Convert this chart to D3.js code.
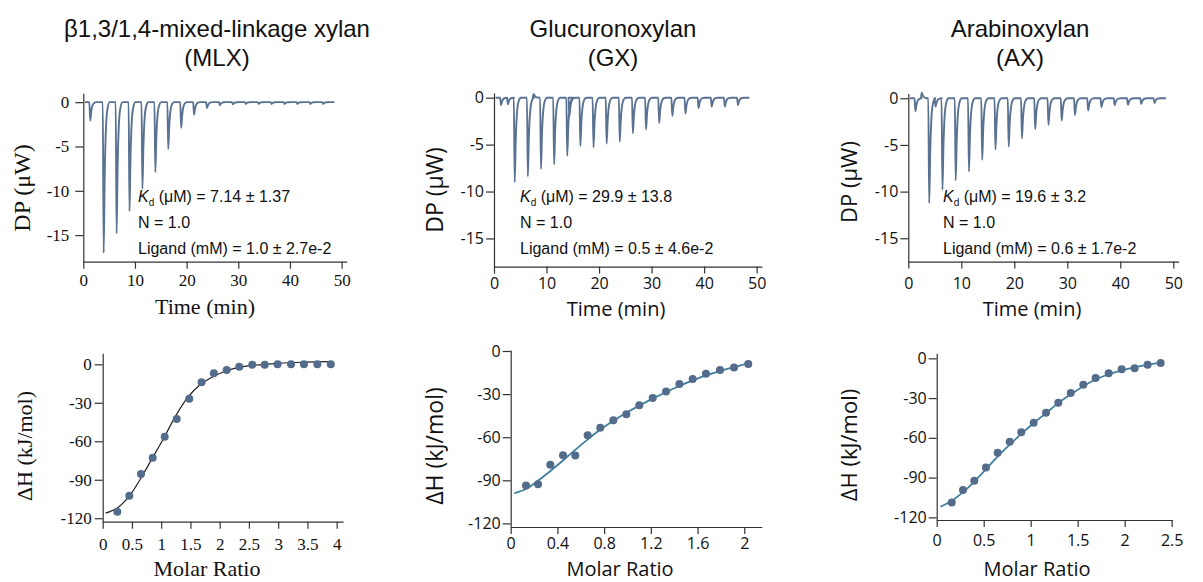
<!DOCTYPE html>
<html>
<head>
<meta charset="utf-8">
<script src="https://cdn.jsdelivr.net/npm/d3@7"></script>
<style>
body { margin: 0; background: #fff; }
svg text { fill: #111; }
.axis path, .axis line { stroke: #333; stroke-width: 1.2; }
</style>
</head>
<body>
<svg id="fig" width="1203" height="582"></svg>
<script>
// injection times (min)
var injTimes = [1.2, 3.8, 6.3, 8.8, 11.3, 13.8, 16.3, 18.8, 21.3, 23.8, 26.3, 28.8, 31.3, 33.8, 36.3, 38.8, 41.3, 43.8, 46.3];

// peak heights (uW) per injection
var mlxPeaks = [-2.1, -17.0, -14.8, -12.3, -9.8, -7.9, -5.3, -2.9, -1.4, -0.65, -0.35, -0.25, -0.2, -0.2, -0.2, -0.2, -0.2, -0.2, -0.2];
var gxPeaks = [-0.8, -9.0, -8.4, -7.6, -7.1, -6.2, -5.15, -5.3, -4.9, -4.7, -3.8, -3.4, -2.7, -1.95, -1.7, -1.1, -0.95, -0.95, -0.8];
var axPeaks = [-1.4, -11.25, -9.8, -8.8, -7.85, -6.6, -5.5, -5.2, -4.3, -3.3, -2.85, -2.4, -1.8, -1.3, -0.97, -0.75, -0.7, -0.6, -0.5];

// small extra features on the baseline [time, value]
var mlxExtra = [];
var gxExtra = [[2.5, -0.7], [7.4, 0.4], [14.2, -2.0]];
var axExtra = [[2.4, 0.6], [5.0, -0.9]];

// integrated heats: molar ratio / dH (kJ/mol)
var mlxRatio = [0.25, 0.455, 0.655, 0.855, 1.06, 1.265, 1.48, 1.69, 1.9, 2.12, 2.335, 2.557, 2.77, 2.99, 3.22, 3.44, 3.67, 3.9];
var mlxHeat = [-114.9, -102.4, -85.5, -72.8, -56.4, -42.6, -26.8, -14.0, -7.0, -4.4, -1.8, -0.3, -0.3, 0, 0, 0, 0, 0];
var mlxFitX = [0.05, 0.25, 0.45, 0.65, 0.85, 1.05, 1.25, 1.45, 1.65, 1.85, 2.05, 2.25, 2.5, 3.0, 3.5, 3.9];
var mlxFitY = [-116, -112, -103, -89, -73, -57, -40, -26, -16.5, -10.5, -6.2, -3.2, -1.2, 0.8, 1.7, 2.1];

var gxRatio = [0.131, 0.234, 0.339, 0.448, 0.553, 0.659, 0.767, 0.879, 0.99, 1.101, 1.216, 1.33, 1.444, 1.558, 1.672, 1.792, 1.912, 2.034];
var gxHeat = [-93.7, -92.8, -79.1, -72.6, -72.8, -58.7, -53.4, -48.2, -44.1, -37.8, -32.7, -28.1, -23.0, -19.5, -15.8, -13.2, -11.4, -9.0];
var gxFitX = [0.03, 0.13, 0.23, 0.34, 0.45, 0.55, 0.66, 0.77, 0.88, 0.99, 1.1, 1.22, 1.33, 1.44, 1.56, 1.67, 1.79, 1.91, 2.03];
var gxFitY = [-99, -96, -90.5, -83.5, -76, -69, -61.5, -54.5, -48.5, -43, -38, -33, -28.5, -24.5, -20.5, -17, -14, -11.3, -8.8];

var axRatio = [0.16, 0.28, 0.40, 0.524, 0.649, 0.777, 0.90, 1.032, 1.163, 1.294, 1.426, 1.56, 1.691, 1.83, 1.968, 2.106, 2.244, 2.383];
var axHeat = [-108.7, -99.4, -92.4, -82.3, -71.2, -62.9, -55.8, -48.6, -41.1, -33.5, -26.2, -19.9, -14.9, -11.3, -8.3, -7.5, -4.8, -3.5];
var axFitX = [0.04, 0.16, 0.28, 0.4, 0.52, 0.65, 0.78, 0.9, 1.03, 1.16, 1.29, 1.43, 1.56, 1.69, 1.83, 1.97, 2.1, 2.24, 2.38];
var axFitY = [-112, -107.5, -101, -93, -84, -74, -65, -57, -49, -41.5, -34, -27, -21, -16, -12, -9, -6.8, -5, -3.2];

var titles = [["β1,3/1,4-mixed-linkage xylan", "(MLX)"], ["Glucuronoxylan", "(GX)"], ["Arabinoxylan", "(AX)"]];
var fitText = [
    ["7.14 ± 1.37", "1.0", "1.0 ± 2.7e-2"],
    ["29.9 ± 13.8", "1.0", "0.5 ± 4.6e-2"],
    ["19.6 ± 3.2", "1.0", "0.6 ± 1.7e-2"]
];

var traceColor = "#5a7291";
var dotColor = "#546c8c";
var serif = "'Liberation Serif', 'Times New Roman', serif";
var sans = "'Open Sans', 'Noto Sans', sans-serif";
var arial = "'Liberation Sans', Arial, sans-serif";

var svg = d3.select("#fig");

function range(a, b, s) {
    var out = [];
    for (var v = a; v <= b + 1e-9; v += s) out.push(Math.round(v * 1000) / 1000);
    return out;
}

function drawAxes(x, y, o) {
    var fmt = function (d) { return String(d); };
    var xb = y.range()[0], yl = x.range()[0];

    var gx = svg.append("g").attr("class", "axis").attr("transform", "translate(0," + xb + ")");
    gx.call(d3.axisBottom(x).tickValues(o.xMinor).tickSize(5).tickSizeOuter(0).tickFormat(""));
    gx.call(d3.axisBottom(x).tickValues(o.xMajor).tickSize(7).tickSizeOuter(0).tickFormat(fmt));
    gx.selectAll("text").attr("font-family", o.font).attr("font-size", o.tick).attr("dy", o.xdy);

    var gy = svg.append("g").attr("class", "axis").attr("transform", "translate(" + yl + ",0)");
    gy.call(d3.axisLeft(y).tickValues(o.yMinor).tickSize(5).tickSizeOuter(0).tickFormat(""));
    gy.call(d3.axisLeft(y).tickValues(o.yMajor).tickSize(8).tickSizeOuter(0).tickFormat(fmt));
    gy.selectAll("text").attr("font-family", o.font).attr("font-size", o.tick).attr("x", o.ylx);

    svg.append("text").attr("x", o.xTitle[0]).attr("y", o.xTitle[1])
        .attr("text-anchor", "middle").attr("font-family", o.font).attr("font-size", o.title)
        .text(o.xLabel);
    svg.append("text").attr("transform", "translate(" + o.yTitle[0] + "," + o.yTitle[1] + ") rotate(-90)")
        .attr("text-anchor", "middle").attr("dy", "0.35em").attr("font-family", o.font).attr("font-size", o.ytitle)
        .text(o.yLabel);
}

function thermogram(o) {
    var x = d3.scaleLinear().domain([0, 51]).range(o.xr);
    var y = d3.scaleLinear().domain(o.yd).range(o.yr);
    drawAxes(x, y, {
        xMajor: range(0, 50, 10), xMinor: range(0, 50, 5),
        yMajor: range(-15, 0, 5), yMinor: range(-17.5, 0, 2.5),
        font: o.font, tick: o.tick, title: o.title, ytitle: o.ytitle, xdy: o.xdy, ylx: o.ylx,
        xLabel: "Time (min)", yLabel: "DP (μW)", xTitle: o.xTitle, yTitle: o.yTitle
    });

    // build the trace: each event is a sharp dip with a quick recovery
    var events = injTimes.map(function (t, i) { return [t, o.peaks[i]]; }).concat(o.extra);
    events.sort(function (a, b) { return a[0] - b[0]; });
    var pts = [[0.3, 0]];
    events.forEach(function (e) {
        var t0 = e[0], d = e[1];
        pts.push([t0 - 0.03, 0], [t0 + 0.14, d], [t0 + 0.34, d * 0.5], [t0 + 0.6, d * 0.16], [t0 + 0.9, d * 0.04], [t0 + 1.3, 0]);
    });
    pts.push([48.6, 0]);

    svg.append("path").datum(pts)
        .attr("fill", "none").attr("stroke", traceColor).attr("stroke-width", 1.9).attr("stroke-linejoin", "round")
        .attr("d", d3.line().x(function (d) { return x(d[0]); }).y(function (d) { return y(d[1]); }).curve(d3.curveMonotoneX));

    var note = svg.append("g").attr("font-family", arial).attr("font-size", 16);
    var l1 = note.append("text").attr("x", o.note[0]).attr("y", o.note[1]);
    l1.append("tspan").attr("font-style", "italic").text("K");
    l1.append("tspan").attr("font-size", 10).attr("dy", 4).text("d");
    l1.append("tspan").attr("dy", -4).text(" (μM) = " + o.fit[0]);
    note.append("text").attr("x", o.note[0]).attr("y", o.note[1] + 26).text("N = " + o.fit[1]);
    note.append("text").attr("x", o.note[0]).attr("y", o.note[1] + 52).text("Ligand (mM) = " + o.fit[2]);
}

function isotherm(o) {
    var x = d3.scaleLinear().domain([0, o.xmax]).range(o.xr);
    var y = d3.scaleLinear().domain(o.yd).range(o.yr);
    drawAxes(x, y, {
        xMajor: range(0, o.xTop, o.xStep), xMinor: range(0, o.xmax, o.xStep / 2),
        yMajor: range(-120, 0, 30), yMinor: range(-120, 0, 15),
        font: o.font, tick: o.tick, title: o.title, ytitle: o.ytitle, xdy: o.xdy, ylx: o.ylx,
        xLabel: "Molar Ratio", yLabel: "ΔH (kJ/mol)", xTitle: o.xTitle, yTitle: o.yTitle
    });

    var fit = o.fitX.map(function (v, i) { return [v, o.fitY[i]]; });
    svg.append("path").datum(fit)
        .attr("fill", "none").attr("stroke", o.lineColor).attr("stroke-width", o.lineWidth)
        .attr("d", d3.line().x(function (d) { return x(d[0]); }).y(function (d) { return y(d[1]); }).curve(d3.curveCatmullRom));

    svg.append("g").selectAll("circle").data(o.ratio).enter().append("circle")
        .attr("cx", function (d) { return x(d); })
        .attr("cy", function (d, i) { return y(o.heat[i]); })
        .attr("r", 4)
        .attr("fill", dotColor);
}

// titles
var titleX = [217, 613, 1020];
titles.forEach(function (tt, i) {
    var g = svg.append("g").attr("font-family", arial).attr("font-size", 24).attr("text-anchor", "middle");
    g.append("text").attr("x", titleX[i]).attr("y", 37).text(tt[0]);
    g.append("text").attr("x", titleX[i]).attr("y", 66).text(tt[1]);
});

thermogram({ xr: [83.3, 346.8], yd: [-18, 1], yr: [261.7, 93.3], peaks: mlxPeaks, extra: mlxExtra,
    font: serif, tick: 17, title: 22, ytitle: 24, xdy: "0.85em", ylx: -14, xTitle: [205, 314], yTitle: [22, 188],
    note: [138, 202], fit: fitText[0] });
thermogram({ xr: [494, 761.9], yd: [-18, 0.5], yr: [266.6, 93], peaks: gxPeaks, extra: gxExtra,
    font: sans, tick: 16, title: 20, ytitle: 23, xdy: "0.78em", ylx: -10, xTitle: [616, 316], yTitle: [435, 190],
    note: [520, 202], fit: fitText[1] });
thermogram({ xr: [908.3, 1178.6], yd: [-17.5, 0.5], yr: [261.6, 93.6], peaks: axPeaks, extra: axExtra,
    font: sans, tick: 16, title: 20, ytitle: 22, xdy: "1.08em", ylx: -10, xTitle: [1032, 316], yTitle: [849, 182],
    note: [943, 202], fit: fitText[2] });

isotherm({ xr: [102.7, 343.1], xmax: 4.11, xTop: 4, xStep: 0.5, yd: [-122.7, 8.6], yr: [521.7, 353.3],
    ratio: mlxRatio, heat: mlxHeat, fitX: mlxFitX, fitY: mlxFitY, lineColor: "#222", lineWidth: 1.2,
    font: serif, tick: 17, title: 22, ytitle: 22, xdy: "1.05em", ylx: -11, xTitle: [207, 576], yTitle: [24, 446] });
isotherm({ xr: [510.7, 761.8], xmax: 2.15, xTop: 2, xStep: 0.4, yd: [-122.5, 0.7], yr: [527, 350],
    ratio: gxRatio, heat: gxHeat, fitX: gxFitX, fitY: gxFitY, lineColor: "#3d7f9e", lineWidth: 1.8,
    font: sans, tick: 16, title: 20, ytitle: 23, xdy: "0.75em", ylx: -10, xTitle: [620, 576], yTitle: [435, 446] });
isotherm({ xr: [936.7, 1172.6], xmax: 2.51, xTop: 2.5, xStep: 0.5, yd: [-122, 3.8], yr: [520, 353.3],
    ratio: axRatio, heat: axHeat, fitX: axFitX, fitY: axFitY, lineColor: "#3d7f9e", lineWidth: 1.8,
    font: sans, tick: 16, title: 20, ytitle: 22, xdy: "1.0em", ylx: -10, xTitle: [1037, 576], yTitle: [849, 445] });
</script>
</body>
</html>
